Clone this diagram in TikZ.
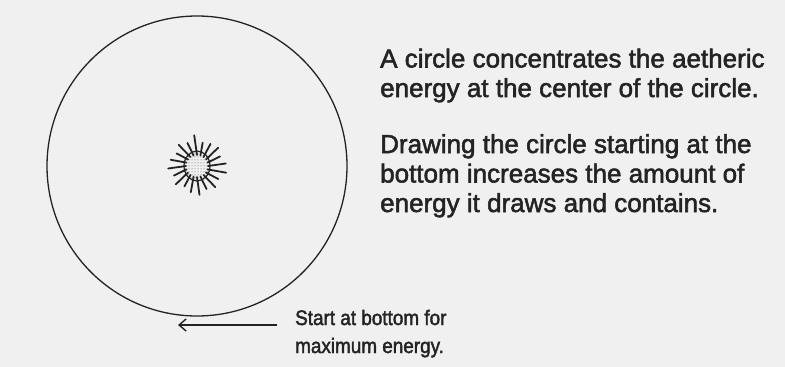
\documentclass[tikz,border=0pt]{standalone}
\usepackage{fontspec}
\setmainfont[FakeBold=2]{Liberation Sans}
\usetikzlibrary{arrows.meta,positioning,patterns}
\definecolor{paper}{RGB}{240,240,240}
\definecolor{ink}{RGB}{35,35,35}

\begin{document}
\begin{tikzpicture}[x=1pt,y=-1pt,>={Straight Barb[length=7pt,width=12pt,line width=1.4pt]},
 ring/.style={draw=ink,line width=1.3pt},
 ray/.style={draw=ink,line width=1.8pt,line cap=round},
 core/.style={draw=ink,line width=1.2pt,pattern=dots,pattern color=ink!80},
 body/.style={text=ink,font=\fontsize{26}{29.5}\selectfont,align=left,anchor=base west,inner sep=0pt},
 note/.style={text=ink,font=\fontsize{21}{28}\selectfont,align=left,anchor=base west,inner sep=0pt,xscale=0.9,transform shape}]
\fill[paper] (0,0) rectangle (785,367);
\useasboundingbox (0,0) rectangle (785,367);
% the circle and its centre
\coordinate (c) at (197,166);
\draw[ring] (c) circle (150pt);
\foreach \a/\r in {0/29,18/25,36/28,54/26,72/24,90/31,108/25,126/28,144/24,162/27,180/29,198/25,216/28,234/24,252/27,270/29,288/25,306/28,324/25,342/30}
  \draw[ray] (c) ++(\a:11pt) -- ++(\a+8:{\r*1pt-11pt});
\draw[core] (c) ellipse (13pt and 15pt);
% texts
\node[body] (para1) at (380,97) {A circle concentrates the aetheric\\energy at the center of the circle.};
\node[body] (para2) at (380,212) {Drawing the circle starting at the\\bottom increases the amount of\\energy it draws and contains.};
\node[note] (hint) at (295,353) {Start at bottom for\\maximum energy.};
% arrow
\coordinate (from) at (277,325);
\coordinate (to) at (178,325);
\draw[ring,->] (from) -- (to);
\end{tikzpicture}
\end{document}
